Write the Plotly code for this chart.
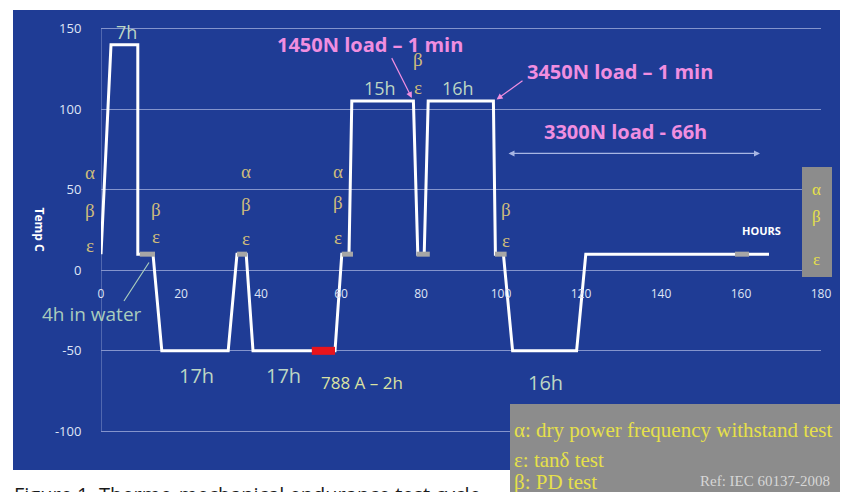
import plotly.graph_objects as go

# ---- data ----
hours = [0, 2.5, 9.2, 9.2, 13.0, 15.2, 31.8, 34.0, 36.3, 38.0, 58.5, 60.2, 62.0, 62.7, 78.1, 79.2, 80.8, 81.8, 98.1, 98.6, 100.6, 102.9, 118.9, 121.2, 167.0]
temps = [10, 140, 140, 10, 10, -50, -50, 10, 10, -50, -50, 10, 10, 105, 105, 10, 10, 105, 105, 10, 10, -50, -50, 10, 10]

test_start = [9.7, 34.0, 60.2, 78.9, 98.5, 158.5]
test_end = [13.5, 36.5, 63.0, 82.2, 101.4, 162.0]
test_temp = 10

current_start, current_end, current_temp = 52.7, 58.5, -50

x_ticks = [0, 20, 40, 60, 80, 100, 120, 140, 160, 180]
y_ticks = [-100, -50, 0, 50, 100, 150]

# ---- figure ----
fig = go.Figure()

fig.add_trace(go.Scatter(x=hours, y=temps, mode="lines",
                         line=dict(color="white", width=3), hoverinfo="skip",
                         showlegend=False))

tx, ty = [], []
for s, e in zip(test_start, test_end):
    tx += [s, e, None]
    ty += [test_temp, test_temp, None]
fig.add_trace(go.Scatter(x=tx, y=ty, mode="lines",
                         line=dict(color="#a6a6a6", width=5), showlegend=False,
                         hoverinfo="skip"))
fig.add_trace(go.Scatter(x=[current_start, current_end], y=[current_temp, current_temp],
                         mode="lines", line=dict(color="#e8141c", width=8),
                         showlegend=False, hoverinfo="skip"))

SANS = "Open Sans"
SERIF = "Liberation Serif"
PINK = "#f08ee0"
GREEN = "#bcd6c4"
GREEK = "#cdbb7c"
YEL = "#e6e04a"

# pixel helpers for paper coordinates (plot area on screen: x 101..821, y 27..433)
def px(p):
    return (p - 101) / 720.0

def py(p):
    return (433 - p) / 406.0

ann = []

def txt(x, y, s, size, color, family=SANS, bold=False, xref="x", yref="y",
        xanchor="center", yanchor="middle", **kw):
    if bold:
        s = "<b>" + s + "</b>"
    d = dict(x=x, y=y, xref=xref, yref=yref, text=s, showarrow=False,
             xanchor=xanchor, yanchor=yanchor,
             font=dict(family=family, size=size, color=color))
    d.update(kw)
    ann.append(d)

def arrow(x0, y0, x1, y1, color, side="end", head=2):
    ann.append(dict(x=x1, y=y1, ax=x0, ay=y0, xref="x", yref="y", axref="x", ayref="y",
                    text="", showarrow=True, arrowcolor=color, arrowwidth=1.2,
                    arrowhead=head, arrowsize=1, arrowside=side, startarrowhead=head,
                    startarrowsize=1))

# duration labels
txt(6.25, 148, "7h", 18, GREEN)
txt(69.75, 113.4, "15h", 18, GREEN)
txt(89.3, 113.4, "16h", 18, GREEN)
txt(23.9, -65.3, "17h", 20, GREEN)
txt(45.6, -65.3, "17h", 20, GREEN)
txt(111.2, -69.6, "16h", 20, GREEN)
txt(65.2, -69.4, "788 A \u2013 2h", 17, "#dbe2a2")
txt(px(91.7), -27.4, "4h in water", 19, "#a9cdbd", xref="paper")
arrow(5.5, -20, 12.0, 4.8, "#a9cdbd", head=0)

# load labels
txt(67.25, 140, "1450N load \u2013 1 min", 20, PINK, bold=True)
arrow(72.5, 132.6, 77.7, 107, PINK)
txt(129.75, 123.3, "3450N load \u2013 1 min", 20, PINK, bold=True)
arrow(105.75, 118.3, 98.9, 106, PINK)
txt(131, 86.1, "3300N load - 66h", 20, PINK, bold=True)
arrow(101.5, 72.5, 164.75, 72.5, "#a8b6e4", side="end+start")
txt(165.2, 24.9, "HOURS", 11, "white", bold=True)

# greek test markers
greek = [(None, [("\u03b1", 60.7), ("\u03b2", 37.1), ("\u03b5", 15.4)]),
         (13.75, [("\u03b2", 37.7), ("\u03b5", 20.9)]),
         (36.25, [("\u03b1", 61.3), ("\u03b2", 40.8), ("\u03b5", 19.7)]),
         (59.3, [("\u03b1", 61.3), ("\u03b2", 42.1), ("\u03b5", 20.3)]),
         (79.3, [("\u03b2", 130.8), ("\u03b5", 113.4)]),
         (101.25, [("\u03b2", 37.7), ("\u03b5", 18.5)])]
for gx, items in greek:
    for ch, gy in items:
        if gx is None:
            txt(px(90), gy, ch, 19, GREEK, family=SERIF, xref="paper")
        else:
            txt(gx, gy, ch, 19, GREEK, family=SERIF)

# right small box letters
for ch, gy in [("\u03b1", 50.1), ("\u03b2", 33.4), ("\u03b5", 6.7)]:
    txt(px(816), gy, ch, 17, YEL, family=SERIF, xref="paper")

# axis title
txt(px(39), 25.3, "Temp C", 12, "white", bold=True, xref="paper", textangle=90)

# legend box text
txt(px(512), py(430), "\u03b1: dry power frequency withstand test", 21, YEL, family=SERIF,
    xref="paper", yref="paper", xanchor="left")
txt(px(512), py(460), "\u03b5: tan\u03b4 test", 21, YEL, family=SERIF,
    xref="paper", yref="paper", xanchor="left")
txt(px(512), py(482), "\u03b2: PD test", 21, YEL, family=SERIF,
    xref="paper", yref="paper", xanchor="left")
txt(px(832), py(481), "Ref: IEC 60137-2008", 15, "#d6d6d6", family=SERIF,
    xref="paper", yref="paper", xanchor="right")

# caption
txt(px(12), py(479), "Figure 1. Thermo-mechanical endurance test cycle", 20, "#1a1a1a",
    xref="paper", yref="paper", xanchor="left", yanchor="top")

shapes = [
    dict(type="rect", xref="paper", yref="paper", x0=px(13), x1=px(843), y0=py(470), y1=py(10),
         fillcolor="#1f3c95", line=dict(width=0), layer="below"),
    dict(type="rect", xref="paper", yref="paper", x0=px(802), x1=px(832), y0=py(277), y1=py(167),
         fillcolor="#8c8c8c", line=dict(width=0), layer="above"),
    dict(type="rect", xref="paper", yref="paper", x0=px(510), x1=px(843), y0=py(500), y1=py(404),
         fillcolor="#8c8c8c", line=dict(width=0), layer="above"),
]

# the page body adds an 8px offset; margins compensate so the plot area sits at screen x 101..821, y 27..433
fig.update_layout(
    width=848, height=492,
    margin=dict(l=93, r=35, t=19, b=67),
    paper_bgcolor="white", plot_bgcolor="rgba(0,0,0,0)",
    showlegend=False,
    annotations=ann, shapes=shapes,
    xaxis=dict(range=[0, 180], tickvals=x_ticks, ticktext=[str(v) for v in x_ticks],
               anchor="free", position=(0 + 101) / 252.0, showgrid=False, zeroline=False,
               showline=False, automargin=False,
               ticks="outside", ticklen=12, tickcolor="rgba(0,0,0,0)",
               tickfont=dict(family=SANS, size=12, color="#dfe5f6")),
    yaxis=dict(range=[-101, 151], tickvals=y_ticks, ticktext=[str(v) for v in y_ticks],
               showgrid=True, gridcolor="#8494cc", gridwidth=1, zeroline=False,
               showline=False, automargin=False,
               ticks="outside", ticklen=16, tickcolor="rgba(0,0,0,0)",
               tickfont=dict(family=SANS, size=13, color="#dfe5f6")),
)

# vertical axis line from -100 to 150 at x=0
fig.add_shape(type="line", xref="x", yref="y", x0=0, x1=0, y0=-100, y1=150,
              line=dict(color="#8494cc", width=1), layer="below")

fig.write_html("out.html")
